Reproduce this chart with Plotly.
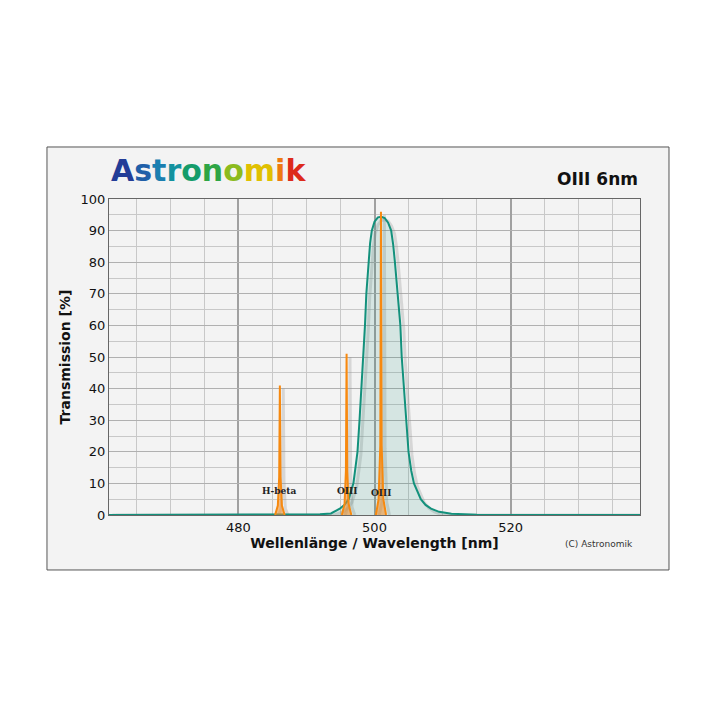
import plotly.graph_objects as go

# Filter transmission curve
filt_nm = [461, 480, 485, 488, 490, 492, 493.6, 494.9, 495.6, 496.2, 496.9, 497.5, 497.8, 498.1, 498.3,
           498.6, 498.8, 499.1, 499.35, 499.6, 500.0, 500.5, 501.0, 501.5, 502.0, 502.45, 502.75, 503.0, 503.4,
           503.8, 504.0, 504.3, 504.6, 505.0, 505.4, 505.8, 506.8, 507.5, 508.3, 509.5, 511.3, 515, 520, 539]
filt_t = [0, 0, 0, 0.05, 0.1, 0.2, 0.5, 2, 3.2, 5, 10, 20, 30, 40, 50,
          60, 70, 80, 86, 90, 92.8, 94.2, 94.4, 94.0, 92.5, 90, 85.5, 80, 70,
          60, 50, 40, 30, 20, 14, 10, 5, 3.2, 2, 1, 0.4, 0.1, 0, 0]

# Emission lines
hb_nm = [485.4, 485.8, 486.0, 486.1, 486.2, 486.4, 486.8]
hb_t = [0, 3, 12, 41, 12, 3, 0]
o1_nm = [495.2, 495.6, 495.8, 495.9, 496.0, 496.2, 496.6]
o1_t = [0, 3.5, 14, 51, 14, 3.5, 0]
o2_nm = [500.2, 500.6, 500.85, 500.95, 501.05, 501.3, 501.7]
o2_t = [0, 5, 22, 96, 22, 5, 0]

line_labels = ["H-beta", "OIII", "OIII"]
label_x = [486.0, 495.9, 501.0]
label_y = [7.5, 7.5, 7.0]

fig = go.Figure()

shift = 0.5
for xs, ys in [(filt_nm, filt_t), (hb_nm, hb_t), (o1_nm, o1_t), (o2_nm, o2_t)]:
    fig.add_trace(go.Scatter(x=[v + shift for v in xs], y=[max(v - 1, 0) for v in ys], mode="lines",
                             line=dict(color="rgba(150,150,150,0.3)", width=3),
                             hoverinfo="skip", showlegend=False))

fig.add_trace(go.Scatter(x=filt_nm, y=filt_t, mode="lines", fill="tozeroy",
                         fillcolor="rgba(0,128,110,0.12)",
                         line=dict(color="#13917c", width=2), showlegend=False))
for xs, ys in [(hb_nm, hb_t), (o1_nm, o1_t), (o2_nm, o2_t)]:
    fig.add_trace(go.Scatter(x=xs, y=ys, mode="lines", fill="tozeroy",
                             fillcolor="rgba(240,140,40,0.55)",
                             line=dict(color="#f7890f", width=2), showlegend=False))

for t, x, y in zip(line_labels, label_x, label_y):
    fig.add_annotation(x=x, y=y, text=f"<b>{t}</b>", showarrow=False,
                       font=dict(family="DejaVu Serif", size=9, color="#222"))

# frame box
fig.add_shape(type="rect", xref="paper", yref="paper", x0=-0.1168, x1=1.0546, y0=-0.174, y1=1.1646,
              fillcolor="#f3f3f3", line=dict(color="#555", width=1), layer="below")

letters = "Astronomik"
colors = ["#233d97", "#1f5fa8", "#1a7fb0", "#13929f", "#159c6a", "#2ea545", "#8cbb1e",
          "#e0c000", "#ee7a10", "#dd2a1b"]
logo = "".join(f"<span style='color:{c}'>{l}</span>" for l, c in zip(letters, colors))
fig.add_annotation(xref="paper", yref="paper", x=0.0, y=1.03, xanchor="left", yanchor="bottom",
                   text=f"<b>{logo}</b>", showarrow=False,
                   font=dict(family="DejaVu Sans", size=30))
fig.add_annotation(xref="paper", yref="paper", x=1.0, y=1.025, xanchor="right", yanchor="bottom",
                   text="<b>OIII 6nm</b>", showarrow=False,
                   font=dict(family="DejaVu Sans", size=17, color="#111"))
fig.add_annotation(xref="paper", yref="paper", x=0.99, y=-0.07, xanchor="right", yanchor="top",
                   text="(C) Astronomik", showarrow=False,
                   font=dict(family="DejaVu Sans", size=9, color="#333"))

fig.update_layout(
    width=720, height=720,
    margin=dict(l=101, r=88, t=191, b=213),
    paper_bgcolor="white", plot_bgcolor="#f3f3f3",
    font=dict(family="DejaVu Sans", color="#111"),
    xaxis=dict(range=[461, 539], tick0=480, dtick=20, showgrid=True, gridcolor="#a0a0a0",
               gridwidth=1.5, zeroline=False, showline=True, linecolor="#666", mirror=True,
               tickfont=dict(size=13), ticks="",
               minor=dict(dtick=5, tick0=480, showgrid=True, gridcolor="#c8c8c8", gridwidth=1),
               title=dict(text="<b>Wellenlänge / Wavelength [nm]</b>", font=dict(size=14), standoff=4)),
    yaxis=dict(range=[0, 100], dtick=10, showgrid=True, gridcolor="#b0b0b0", zeroline=False,
               showline=True, linecolor="#666", mirror=True, tickfont=dict(size=13), ticks="",
               minor=dict(dtick=5, showgrid=True, gridcolor="#c8c8c8"),
               title=dict(text="<b>Transmission [%]</b>", font=dict(size=14), standoff=6)),
)
fig.write_html("out.html")
